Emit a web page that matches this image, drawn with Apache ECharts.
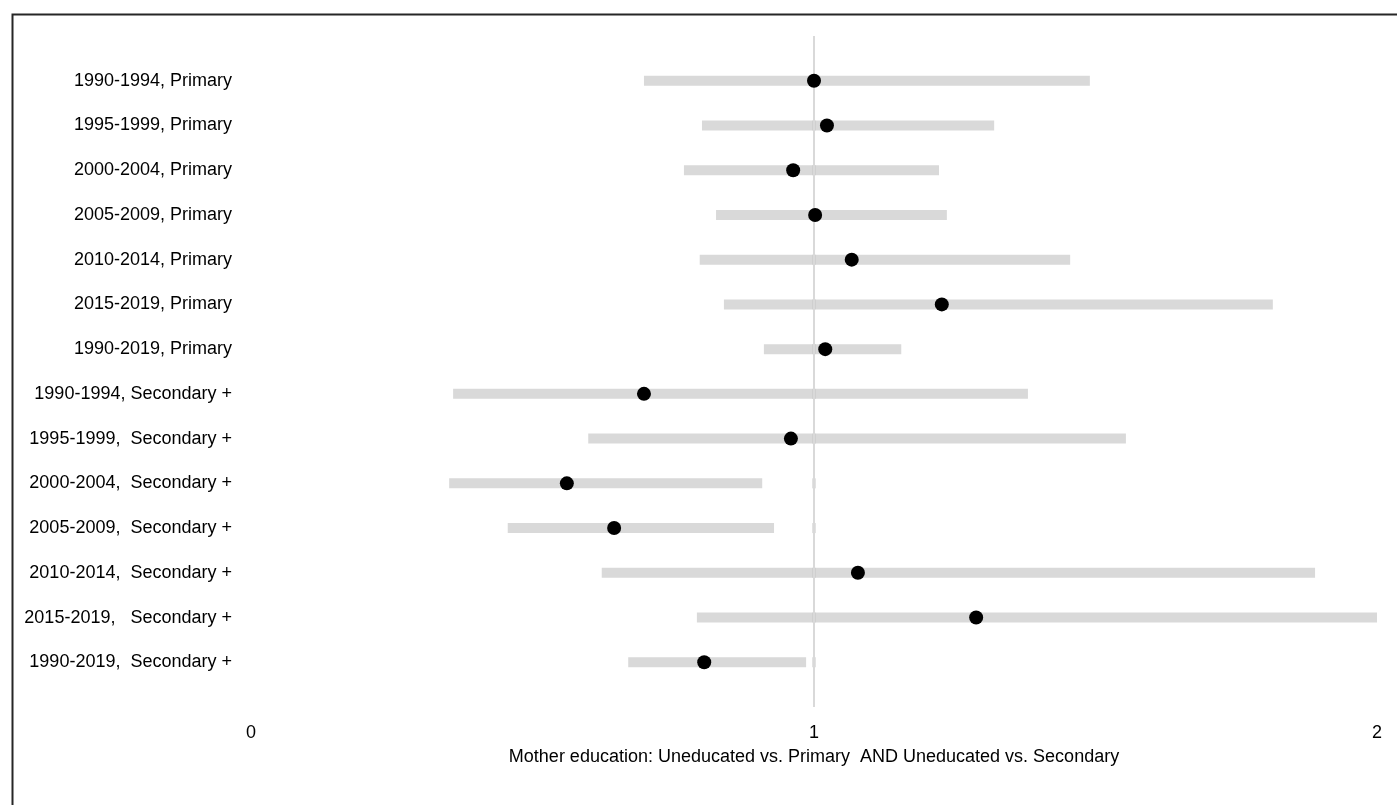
<!DOCTYPE html>
<html>
<head>
<meta charset="utf-8">
<script src="https://cdn.jsdelivr.net/npm/echarts@6/dist/echarts.min.js"></script>
<style>
html,body{margin:0;padding:0;background:#fff;}
#chart{width:1397px;height:805px;}
</style>
</head>
<body>
<div id="chart"></div>
<script>
const categories = [
  "1990-1994, Primary",
  "1995-1999, Primary",
  "2000-2004, Primary",
  "2005-2009, Primary",
  "2010-2014, Primary",
  "2015-2019, Primary",
  "1990-2019, Primary",
  "1990-1994, Secondary +",
  "1995-1999,  Secondary +",
  "2000-2004,  Secondary +",
  "2005-2009,  Secondary +",
  "2010-2014,  Secondary +",
  "2015-2019,   Secondary +",
  "1990-2019,  Secondary +"
];
const estimate = [1.000, 1.023, 0.963, 1.002, 1.067, 1.227, 1.020, 0.698, 0.959, 0.561, 0.645, 1.078, 1.288, 0.805];
const lower    = [0.698, 0.801, 0.769, 0.826, 0.797, 0.840, 0.911, 0.359, 0.599, 0.352, 0.456, 0.623, 0.792, 0.670];
const upper    = [1.490, 1.320, 1.222, 1.236, 1.455, 1.815, 1.155, 1.380, 1.554, 0.908, 0.929, 1.890, 2.000, 0.986];
const xTicks = [0, 1, 2];
const refValue = 1;
const xTitle = "Mother education: Uneducated vs. Primary  AND Uneducated vs. Secondary";

const ciData = categories.map((c, i) => [lower[i], upper[i], i]);
const ptData = categories.map((c, i) => [estimate[i], i]);

const chart = echarts.init(document.getElementById('chart'), null, {renderer: 'canvas'});
const font = "'Liberation Sans', Arial, sans-serif";

chart.setOption({
  animation: false,
  backgroundColor: '#ffffff',
  graphic: [{
    type: 'rect',
    left: 10, top: 12,
    shape: {width: 1400, height: 800},
    style: {fill: 'none', stroke: '#262626', lineWidth: 2},
    z: 100
  }],
  grid: {left: 251, right: 20, top: 36, bottom: 98, containLabel: false},
  xAxis: {
    type: 'value',
    min: xTicks[0], max: xTicks[xTicks.length - 1], interval: 1,
    name: xTitle,
    nameLocation: 'middle',
    nameGap: 41,
    nameTextStyle: {fontFamily: font, fontSize: 18, color: '#000'},
    axisLine: {show: false},
    axisTick: {show: false},
    splitLine: {show: false},
    axisLabel: {fontFamily: font, fontSize: 18, color: '#000', margin: 17}
  },
  yAxis: {
    type: 'value',
    inverse: true,
    min: -1, max: categories.length, interval: 1,
    axisLine: {show: false},
    axisTick: {show: false},
    splitLine: {show: false},
    axisLabel: {
      fontFamily: font, fontSize: 18, color: '#000', margin: 19,
      formatter: v => (v >= 0 && v < categories.length ? categories[v] : '')
    }
  },
  series: [
    {
      type: 'custom',
      data: ciData,
      encode: {x: [0, 1], y: 2},
      z: 2,
      renderItem: function (params, api) {
        const a = api.coord([api.value(0), api.value(2)]);
        const b = api.coord([api.value(1), api.value(2)]);
        const r = api.coord([refValue, api.value(2)]);
        const h = 10;
        return {
          type: 'group',
          children: [
            {type: 'rect', shape: {x: a[0], y: a[1] - h / 2, width: b[0] - a[0], height: h}, style: {fill: '#d9d9d9'}},
            {type: 'rect', shape: {x: r[0] - 1.5, y: r[1] - h / 2, width: 3, height: h}, style: {fill: '#c4c4c4'}}
          ]
        };
      },
      markLine: {
        silent: true,
        symbol: 'none',
        label: {show: false},
        lineStyle: {color: '#d9d9d9', width: 2, type: 'solid'},
        data: [{xAxis: refValue}]
      }
    },
    {
      type: 'scatter',
      data: ptData,
      symbol: 'circle',
      symbolSize: 14,
      itemStyle: {color: '#000', opacity: 1},
      z: 5
    }
  ]
});
</script>
</body>
</html>
